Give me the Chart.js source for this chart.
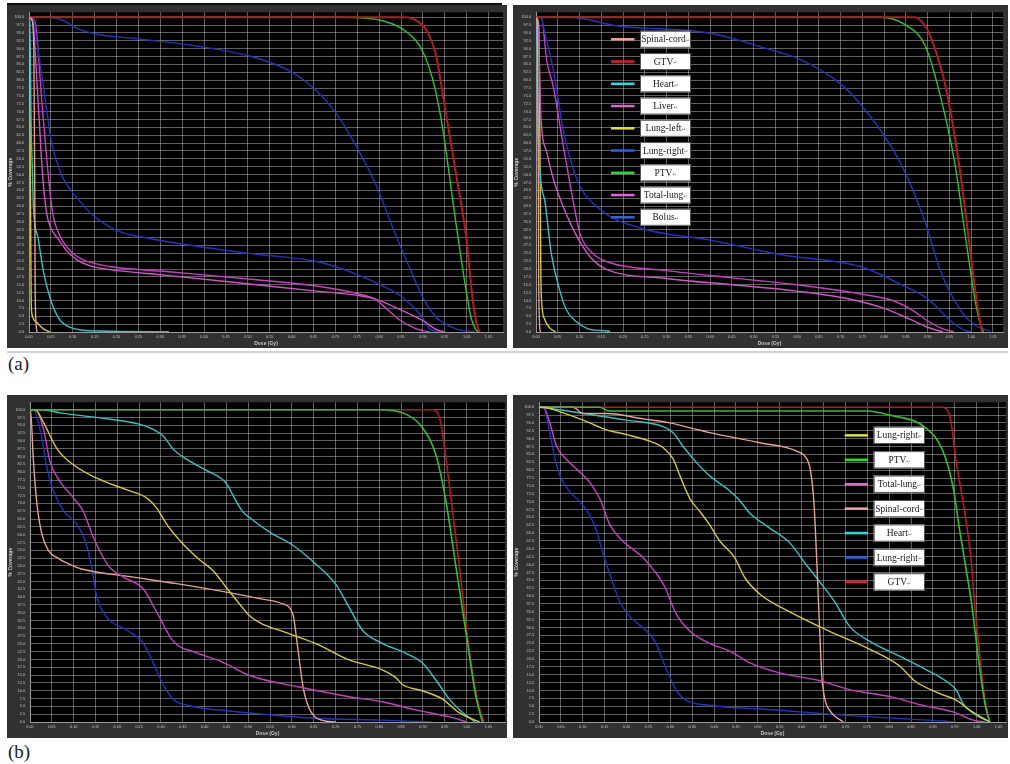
<!DOCTYPE html>
<html>
<head>
<meta charset="utf-8">
<script src="https://cdn.jsdelivr.net/npm/chart.js@4.4.1/dist/chart.umd.min.js"></script>
<style>
  body { margin: 0; background: #fff; width: 1010px; height: 764px; position: relative; overflow: hidden; }
  .pane { position: absolute; }
  .rule { position: absolute; }
  .tag { position: absolute; font-family: "Liberation Serif", serif; font-size: 19px; color: #222; line-height: 1; }
</style>
</head>
<body>
<div class="rule" style="left:7px;top:3px;width:495px;height:1.5px;background:#111"></div>
<div class="pane" style="left:7px;top:5px;width:500px;height:343px"><canvas id="tl"></canvas></div>
<div class="pane" style="left:513px;top:5px;width:495px;height:343px"><canvas id="tr"></canvas></div>
<div class="rule" style="left:7px;top:351px;width:1001px;height:2px;background:#cfd3d8"></div>
<div class="tag" style="left:8px;top:354px">(a)</div>
<div class="pane" style="left:7px;top:395px;width:500px;height:343px"><canvas id="bl"></canvas></div>
<div class="pane" style="left:513px;top:395px;width:495px;height:343px"><canvas id="br"></canvas></div>
<div class="tag" style="left:8px;top:742px">(b)</div>
<script>
// tick values
const doseTicks = [0, 0.05, 0.10, 0.15, 0.20, 0.25, 0.30, 0.35, 0.40, 0.45, 0.50, 0.55,
  0.60, 0.65, 0.70, 0.75, 0.80, 0.85, 0.90, 0.95, 1.00, 1.05];
const coverageTicks = Array.from({ length: 41 }, (_, i) => i * 2.5);

// (a) left panel, [dose Gy, % coverage]
const tlSpinal = [[0,100],[0.007,99],[0.011,90],[0.013,50],[0.014,15],[0.016,3],[0.018,0]];
const tlGtv = [[0,100],[0.86,100],[0.89,98.5],[0.91,95.5],[0.93,88],[0.946,75],[0.976,50],[0.999,30],[1.014,10],[1.024,2],[1.03,0]];
const tlHeart = [[0,100],[0.002,98],[0.005,65],[0.008,50],[0.01,40],[0.021,29.7],[0.033,19.2],[0.048,10.9],[0.067,4.6],[0.094,1.5],[0.16,0.3],[0.32,0.1]];
const tlLiver = [[0,100],[0.008,99],[0.02,75],[0.031,50],[0.04,38],[0.05,33],[0.067,29.5],[0.085,26],[0.109,23],[0.14,21],[0.185,19.8],[0.314,18],[0.52,15],[0.657,13],[0.756,11.5],[0.79,10.5],[0.847,7.2],[0.9,3.6],[0.93,0.8],[0.95,0]];
const tlLungLeft = [[0,100],[0.001,95],[0.003,50],[0.005,10],[0.007,5.5],[0.018,3],[0.033,1],[0.048,0]];
const tlLungRight = [[0,100],[0.01,100],[0.017,93],[0.033,78],[0.052,60],[0.074,50],[0.086,47],[0.109,42.7],[0.147,37],[0.2,32.3],[0.276,29.7],[0.39,27.1],[0.52,24.7],[0.657,22.4],[0.733,19.2],[0.809,14.6],[0.855,10.9],[0.893,5.7],[0.916,1],[0.94,0]];
const tlPtv = [[0,100],[0.72,100],[0.81,98.8],[0.862,95.4],[0.9,89],[0.927,77.7],[0.946,64],[0.969,41],[0.991,20],[1.01,4.6],[1.02,1],[1.027,0]];
const tlTotalLung = [[0,100],[0.013,99],[0.03,72],[0.044,50],[0.055,37],[0.066,32],[0.078,28.6],[0.1,25],[0.124,22.9],[0.185,20.8],[0.314,19.2],[0.52,16.6],[0.657,14.6],[0.756,12],[0.79,10.5],[0.82,7],[0.847,3.8],[0.885,1],[0.916,0]];
const tlBolus = [[0,100],[0.044,100],[0.078,99],[0.109,96.5],[0.155,94.6],[0.238,93.3],[0.39,90.7],[0.505,87.6],[0.596,82.9],[0.657,76.6],[0.703,69.3],[0.748,58.9],[0.794,46.4],[0.832,32.8],[0.87,20.3],[0.9,10.9],[0.931,4.6],[0.976,1],[1.02,0]];

// (a) right panel
const trSpinal = [[0,100],[0.003,98],[0.005,60],[0.006,20],[0.008,3],[0.01,0]];
const trGtv = [[0,100],[0.87,100],[0.89,98],[0.906,94],[0.94,78.6],[0.975,50.5],[0.998,25.5],[1.016,6.7],[1.025,0]];
const trHeart = [[0,100],[0.002,98],[0.004,70],[0.01,50],[0.021,41],[0.035,25],[0.055,13],[0.07,7],[0.09,3.6],[0.12,1],[0.147,0.5],[0.17,0.2]];
const trLiver = [[0,100],[0.004,99],[0.008,85],[0.011,69.3],[0.025,57],[0.04,48.5],[0.071,37],[0.101,28.6],[0.13,23],[0.16,20],[0.3,17],[0.45,15],[0.6,13],[0.72,10.5],[0.8,7.5],[0.86,4],[0.9,1.5],[0.935,0]];
const trLungLeft = [[0,100],[0.006,98],[0.009,60],[0.011,20],[0.014,8],[0.02,4],[0.03,1.5],[0.045,0]];
const trLungRight = [[0,100],[0.012,100],[0.017,97],[0.04,83],[0.063,64],[0.094,48.5],[0.147,39],[0.246,32.8],[0.4,29.2],[0.561,24.6],[0.745,20.8],[0.837,15.2],[0.906,9.9],[0.952,3.6],[0.986,0.5],[1.0,0]];
const trPtv = [[0,100],[0.79,100],[0.85,97.5],[0.894,91],[0.929,75],[0.963,53],[0.986,31],[1.009,10],[1.02,3],[1.028,0]];
const trTotalLung = [[0,100],[0.012,100],[0.025,86],[0.04,77.7],[0.063,58.9],[0.086,41.2],[0.101,31.3],[0.13,25],[0.17,22],[0.3,19.5],[0.45,17.2],[0.6,15],[0.75,12],[0.82,10],[0.87,6.5],[0.9,3.5],[0.935,1],[0.96,0]];
const trBolus = [[0,100],[0.078,100],[0.185,97.3],[0.4,94.9],[0.538,89.7],[0.607,86.6],[0.699,78.9],[0.745,72.5],[0.837,53.8],[0.894,35],[0.929,19.5],[0.975,7],[1.01,2],[1.044,0.3]];

// (b) left panel
const blPtv = [[0,100],[0.8,100],[0.861,98.6],[0.899,94.3],[0.929,85.9],[0.952,71.3],[0.975,50.3],[0.998,29.3],[1.021,8.4],[1.036,0]];
const blYellow = [[0,100],[0.012,100],[0.031,95.9],[0.062,87.5],[0.1,82.3],[0.153,78.1],[0.221,74.4],[0.267,71.8],[0.29,68.6],[0.313,63.4],[0.35,57.1],[0.389,51.9],[0.419,48.5],[0.45,43],[0.48,37.8],[0.503,34],[0.53,31.5],[0.579,29],[0.655,25.1],[0.731,19.9],[0.807,16.7],[0.838,14.2],[0.853,12],[0.899,10],[0.944,7.4],[0.982,3.1],[1.03,0]];
const blTotalLung = [[0,100],[0.012,100],[0.031,93.8],[0.046,83.3],[0.069,77],[0.1,71.7],[0.122,67.5],[0.145,59.2],[0.18,50],[0.214,46.4],[0.259,42.7],[0.29,35.3],[0.328,25.9],[0.381,22.2],[0.434,19.6],[0.465,17.5],[0.503,14.9],[0.617,11.2],[0.731,8.1],[0.807,6.5],[0.883,3.9],[0.96,1.7],[1.0,0]];
const blSpinal = [[0,100],[0.001,100],[0.008,83.3],[0.016,69.7],[0.027,60.3],[0.042,55],[0.065,52.4],[0.092,50.4],[0.118,49],[0.237,46.4],[0.336,44.3],[0.465,41.2],[0.526,39.5],[0.579,37.8],[0.602,34.6],[0.613,24.1],[0.625,11.6],[0.64,4.2],[0.67,0.5],[0.7,0]];
const blHeart = [[0,100],[0.031,100],[0.069,99],[0.16,97.4],[0.252,95.3],[0.282,93.7],[0.305,91.6],[0.328,87.4],[0.358,84.2],[0.404,80.6],[0.45,76.4],[0.465,72.6],[0.487,67.4],[0.503,65.5],[0.549,60.8],[0.602,56.6],[0.648,51.4],[0.701,44],[0.731,36.7],[0.762,29.3],[0.807,25.2],[0.861,22],[0.899,18.9],[0.929,13.6],[0.96,7.4],[0.99,3.1],[1.02,0]];
const blBlue = [[0,100],[0.008,100],[0.023,93.8],[0.039,81.3],[0.054,73.9],[0.077,67.6],[0.107,63.4],[0.126,58.2],[0.141,49.8],[0.153,40],[0.176,33.6],[0.222,29.4],[0.259,25.3],[0.282,19],[0.305,12],[0.328,7.3],[0.366,5.2],[0.45,3.6],[0.526,2.6],[0.655,1.2],[0.807,0.6],[0.92,0]];
const blGtv = [[0,100],[0.925,100],[0.94,96.4],[0.96,76.5],[0.983,50.3],[1.005,24.1],[1.028,5.2],[1.04,0]];

// (b) right panel
const brYellow = [[0,100],[0.01,100],[0.048,98.5],[0.101,95.9],[0.155,92.8],[0.2,91.3],[0.253,89.2],[0.284,87.1],[0.307,83.4],[0.322,78.2],[0.345,70.9],[0.368,66.8],[0.39,62.6],[0.413,57.5],[0.447,52.2],[0.47,45.9],[0.505,40.6],[0.573,35],[0.664,28.8],[0.756,23.1],[0.824,17.8],[0.858,13.1],[0.916,9],[0.954,6.9],[0.984,3.8],[1.03,0]];
const brPtv = [[0,100],[0.139,100],[0.16,98.8],[0.75,98.8],[0.801,97.5],[0.885,93.3],[0.923,86],[0.946,74.6],[0.961,61],[0.977,47.5],[0.988,38.1],[1.005,19],[1.02,5],[1.03,0]];
const brTotalLung = [[0,100],[0.01,100],[0.025,94.9],[0.04,87.6],[0.063,83.4],[0.094,79.3],[0.116,76.1],[0.139,70.9],[0.162,62.6],[0.192,57.4],[0.238,52.2],[0.269,47],[0.288,42.8],[0.311,35],[0.345,28.8],[0.39,25],[0.436,22.5],[0.482,18.8],[0.55,15.6],[0.642,13.1],[0.71,10.3],[0.807,7.9],[0.87,5.5],[0.946,3.2],[0.992,0.6],[1.02,0]];
const brSpinal = [[0,100],[0.078,100],[0.1,98],[0.155,98],[0.238,96.3],[0.299,95],[0.352,93.2],[0.39,91.9],[0.505,88.7],[0.59,86],[0.61,84],[0.62,80],[0.628,70],[0.635,50],[0.641,30],[0.646,15],[0.652,8],[0.665,3.5],[0.695,0]];
const brHeart = [[0,100],[0.03,99.5],[0.124,97.5],[0.2,95.9],[0.284,93.8],[0.307,91.8],[0.329,87.6],[0.36,82.4],[0.39,78.2],[0.436,73.4],[0.459,70.3],[0.482,66.3],[0.527,61.6],[0.573,56.9],[0.607,50.6],[0.642,44.4],[0.676,38.1],[0.71,30.3],[0.756,25.6],[0.824,20.9],[0.881,16.9],[0.93,13],[0.954,10],[0.969,5.8],[0.999,2.2],[1.03,0]];
const brBlue = [[0,100],[0.01,100],[0.025,91.8],[0.037,83.4],[0.048,78.2],[0.071,73],[0.094,69.9],[0.116,65.7],[0.132,60.5],[0.147,53.2],[0.162,46.9],[0.185,38.1],[0.208,33.4],[0.242,29.4],[0.265,25.6],[0.288,17.8],[0.314,10],[0.337,6.9],[0.39,5.3],[0.543,3.8],[0.695,2.2],[0.847,0.9],[0.922,0.3],[0.95,0]];
const brGtv = [[0,100],[0.92,100],[0.938,97.5],[0.954,82],[0.973,66.3],[0.988,50.6],[0.995,38],[1.005,24],[1.018,8],[1.03,0]];

// line colour / legend swatch colour per structure
const look = {
  spinal:   { line: '#e8a08a', key: '#eaa98e' },
  gtv:      { line: '#b81a1a', key: '#e41c1c' },
  heart:    { line: '#2ec4c4', key: '#1ee0e6' },
  liver:    { line: '#d052c6', key: '#e464c4' },
  lungLeft: { line: '#d4cc2c', key: '#e4e21e' },
  lungBlue: { line: '#2232c4', key: '#2262e6' },
  ptv:      { line: '#2cc22c', key: '#1ee21e' },
  total:    { line: '#c83ec4', key: '#e664d2' },
  bolus:    { line: '#2234bc', key: '#3064e0' }
};

function ds(label, data, kind, width) {
  return {
    label, data,
    borderColor: look[kind].line, legendColor: look[kind].key,
    borderWidth: width || 1.4, pointRadius: 0, fill: false,
    cubicInterpolationMode: 'monotone'
  };
}

const frame = {
  id: 'frame',
  beforeDraw(chart) {
    const { ctx, chartArea: a } = chart;
    ctx.save();
    ctx.fillStyle = '#313131';
    ctx.fillRect(0, 0, chart.width, chart.height);
    ctx.fillStyle = '#000';
    ctx.fillRect(a.left, a.top, a.right - a.left, a.bottom - a.top);
    ctx.restore();
  }
};

const boxLegend = {
  id: 'boxLegend',
  afterDraw(chart, args, o) {
    if (!o.show) return;
    const ctx = chart.ctx;
    ctx.save();
    chart.data.datasets.forEach((d, i) => {
      const top = o.top + i * o.step;
      const mid = top + o.h / 2;
      ctx.strokeStyle = d.legendColor;
      ctx.lineWidth = 2.5;
      ctx.beginPath();
      ctx.moveTo(o.lineX, mid);
      ctx.lineTo(o.lineX + o.lineW, mid);
      ctx.stroke();
      ctx.fillStyle = '#fff';
      ctx.fillRect(o.boxX, top, o.boxW, o.h);
      ctx.strokeStyle = '#555';
      ctx.lineWidth = 1;
      ctx.strokeRect(o.boxX + 0.5, top + 0.5, o.boxW - 1, o.h - 1);
      ctx.font = '9.5px "Liberation Serif"';
      const w = ctx.measureText(d.label).width;
      const x = o.boxX + (o.boxW - w - 4) / 2;
      ctx.fillStyle = '#1a1a1a';
      ctx.textBaseline = 'middle';
      ctx.fillText(d.label, x, mid + 0.5);
      ctx.font = '5px "DejaVu Sans"';
      ctx.fillStyle = '#777';
      ctx.fillText('\u21B5', x + w, mid + 1.5);
    });
    ctx.restore();
  }
};

function panel(id, datasets, pad, yWidth, xMax, yMax, legend) {
  const tickFont = { family: 'Liberation Sans', size: 3.8 };
  const titleFont = { family: 'Liberation Sans', size: 5, weight: 'bold' };
  new Chart(document.getElementById(id), {
    type: 'line',
    data: { datasets },
    plugins: [frame, boxLegend],
    options: {
      responsive: true,
      maintainAspectRatio: false,
      animation: false,
      devicePixelRatio: 1,
      layout: { padding: pad },
      plugins: {
        legend: { display: false },
        tooltip: { enabled: false },
        boxLegend: legend || { show: false }
      },
      scales: {
        x: {
          type: 'linear', min: 0, max: xMax,
          afterBuildTicks: s => { s.ticks = doseTicks.map(v => ({ value: v })); },
          afterFit: s => { s.height = 16; },
          grid: { color: 'rgba(225,225,225,0.42)', lineWidth: 1, drawTicks: false },
          border: { color: '#9a9a9a' },
          ticks: { color: '#c4c4c4', font: tickFont, padding: 3, maxRotation: 0, autoSkip: false,
                   callback: v => Number(v).toFixed(2) },
          title: { display: true, text: 'Dose (Gy)', color: '#c8c8c8', font: titleFont, padding: { top: 0, bottom: 1.5 } }
        },
        y: {
          min: 0, max: yMax,
          afterBuildTicks: s => { s.ticks = coverageTicks.map(v => ({ value: v })); },
          afterFit: s => { s.width = yWidth; },
          grid: { color: 'rgba(225,225,225,0.42)', lineWidth: 1, drawTicks: false },
          border: { color: '#9a9a9a' },
          ticks: { color: '#c4c4c4', font: tickFont, padding: 5, autoSkip: false,
                   callback: v => Number(v).toFixed(1) },
          title: { display: true, text: '% Coverage', color: '#c8c8c8', font: titleFont, padding: { top: 1, bottom: 0 } }
        }
      }
    }
  });
}

panel('tl', [
  ds('Spinal-cord', tlSpinal, 'spinal'),
  ds('GTV', tlGtv, 'gtv', 2),
  ds('Heart', tlHeart, 'heart'),
  ds('Liver', tlLiver, 'liver'),
  ds('Lung-left', tlLungLeft, 'lungLeft'),
  ds('Lung-right', tlLungRight, 'lungBlue'),
  ds('PTV', tlPtv, 'ptv'),
  ds('Total-lung', tlTotalLung, 'total'),
  ds('Bolus', tlBolus, 'bolus')
], { top: 2, right: 4, left: 0, bottom: 0 }, 22, 1.083, 101.56);

panel('tr', [
  ds('Spinal-cord', trSpinal, 'spinal'),
  ds('GTV', trGtv, 'gtv', 2),
  ds('Heart', trHeart, 'heart'),
  ds('Liver', trLiver, 'liver'),
  ds('Lung-left', trLungLeft, 'lungLeft'),
  ds('Lung-right', trLungRight, 'lungBlue'),
  ds('PTV', trPtv, 'ptv'),
  ds('Total-lung', trTotalLung, 'total'),
  ds('Bolus', trBolus, 'bolus')
], { top: 2, right: 5, left: 0, bottom: 0 }, 23, 1.073, 101.56,
  { show: true, lineX: 98, lineW: 23.5, boxX: 127, boxW: 51, top: 25.8, step: 22.25, h: 17 });

panel('bl', [
  ds('PTV', blPtv, 'ptv', 1.6),
  ds('Lung-right', blYellow, 'lungLeft'),
  ds('Total-lung', blTotalLung, 'total'),
  ds('Spinal-cord', blSpinal, 'spinal'),
  ds('Heart', blHeart, 'heart'),
  ds('Lung-right', blBlue, 'lungBlue'),
  ds('GTV', blGtv, 'gtv', 1.6)
], { top: 1, right: 2, left: 0, bottom: 0 }, 23, 1.088, 102.4);

panel('br', [
  ds('Lung-right', brYellow, 'lungLeft'),
  ds('PTV', brPtv, 'ptv', 1.6),
  ds('Total-lung', brTotalLung, 'total'),
  ds('Spinal-cord', brSpinal, 'spinal'),
  ds('Heart', brHeart, 'heart'),
  ds('Lung-right', brBlue, 'lungBlue'),
  ds('GTV', brGtv, 'gtv', 1.6)
], { top: 2, right: 2, left: 0, bottom: 0 }, 26, 1.067, 101.56,
  { show: true, lineX: 331.7, lineW: 23.3, boxX: 360.7, boxW: 51.3, top: 31.7, step: 24.43, h: 17.3 });
</script>
</body>
</html>
